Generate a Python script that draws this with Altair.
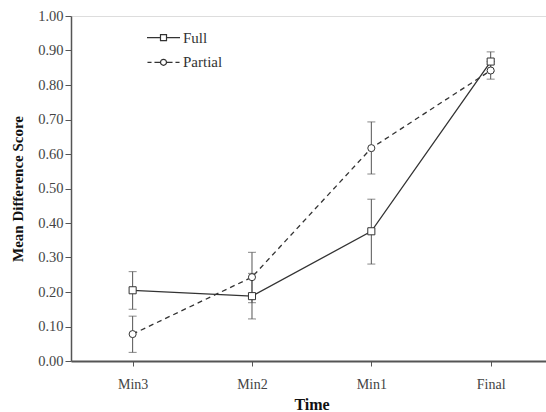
import altair as alt
import pandas as pd

times = ["Min3", "Min2", "Min1", "Final"]
groups = ["Full", "Partial"]
full_mean = [0.205, 0.188, 0.376, 0.868]
full_lo = [0.150, 0.122, 0.281, 0.840]
full_hi = [0.259, 0.254, 0.469, 0.896]
partial_mean = [0.078, 0.243, 0.617, 0.842]
partial_lo = [0.025, 0.169, 0.542, 0.817]
partial_hi = [0.130, 0.315, 0.693, 0.868]
y_ticks = [0.0, 0.1, 0.2, 0.3, 0.4, 0.5, 0.6, 0.7, 0.8, 0.9, 1.0]

rows = []
for g, m, lo, hi in [("Full", full_mean, full_lo, full_hi),
                     ("Partial", partial_mean, partial_lo, partial_hi)]:
    for t, a, b, c in zip(times, m, lo, hi):
        rows.append({"time": t, "group": g, "mean": a, "lo": b, "hi": c})
df = pd.DataFrame(rows)

FONT = "Liberation Serif"
INK = "#333333"
YTITLE = "Mean Difference Score"

xaxis = alt.Axis(
    title="Time", titleFont=FONT, titleFontSize=16, titleFontWeight="bold", titleColor="#111111",
    titleX=240.5, titleY=48.5, titleBaseline="alphabetic", titleAlign="center",
    labelFont=FONT, labelFontSize=14, labelColor="#444444", labelAngle=0,
    labelBaseline="alphabetic", labelPadding=22,
    tickSize=5, tickColor="#555555", tickWidth=1,
    domainColor="#555555", domainWidth=2, grid=False,
)
yaxis = alt.Axis(
    title=YTITLE, titleFont=FONT, titleFontSize=15, titleFontWeight="bold", titleColor="#111111",
    titleX=-54, titleY=172.5, titleAngle=270, titleAlign="center", titleBaseline="middle",
    labelFont=FONT, labelFontSize=14.5, labelColor="#444444", labelPadding=2,
    values=y_ticks, format=".2f",
    tickSize=6, tickColor="#555555", tickWidth=1,
    domainColor="#555555", domainWidth=1.5, grid=False,
)

xscale = alt.Scale(type="point", padding=0.49, align=0.527)
yscale = alt.Scale(domain=[0, 1], nice=False, zero=True)

x = alt.X("time:N", sort=times, scale=xscale, axis=xaxis)
y_mean = alt.Y("mean:Q", scale=yscale, axis=yaxis, title=YTITLE)
y_lo = alt.Y("lo:Q", scale=yscale, axis=yaxis, title=YTITLE)
y_hi = alt.Y("hi:Q", scale=yscale, axis=yaxis, title=YTITLE)

base = alt.Chart(df)

line_full = base.transform_filter("datum.group == 'Full'").mark_line(
    color=INK, strokeWidth=1.3).encode(x=x, y=y_mean)
line_partial = base.transform_filter("datum.group == 'Partial'").mark_line(
    color=INK, strokeWidth=1.3, strokeDash=[5, 4]).encode(x=x, y=y_mean)

err = base.mark_rule(color="#555555", strokeWidth=1).encode(x=x, y=y_lo, y2="hi:Q")
cap_lo = base.mark_tick(orient="horizontal", size=8, thickness=1, color="#555555").encode(x=x, y=y_lo)
cap_hi = base.mark_tick(orient="horizontal", size=8, thickness=1, color="#555555").encode(x=x, y=y_hi)

points = base.mark_point(filled=True, fill="white", stroke=INK, strokeWidth=1, size=50, opacity=1).encode(
    x=x, y=y_mean,
    shape=alt.Shape("group:N", scale=alt.Scale(domain=groups, range=["square", "circle"]), legend=None),
)

path_full = "M-2.36,0H-0.43M-0.43,-0.43H0.43V0.43H-0.43ZM0.43,0H2.36"
path_partial = ("M-2.29,0H-1.71M-1.29,0H-0.43"
                "A0.43,0.43 0 1,1 0.43,0A0.43,0.43 0 1,1 -0.43,0"
                "M0.43,0H1.29M1.71,0H2.29")

legend_layer = base.transform_filter("false").mark_point(opacity=1, filled=False, color=INK).encode(
    x=x, y=y_mean,
    shape=alt.Shape("group:N", scale=alt.Scale(domain=groups, range=[path_full, path_partial]),
                    legend=alt.Legend(title=None, orient="none", legendX=84.5, legendY=13.7,
                                      symbolSize=196, symbolStrokeWidth=1.2, symbolStrokeColor=INK,
                                      symbolFillColor="transparent", symbolOpacity=1,
                                      labelFont=FONT, labelFontSize=15, labelColor=INK,
                                      labelOffset=11.5, rowPadding=8.6, padding=0)),
)

chart = alt.layer(line_full, line_partial, err, cap_lo, cap_hi, points, legend_layer).resolve_scale(
    shape="independent"
).properties(
    width=475, height=345,
    autosize=alt.AutoSizeParams(type="none"),
    padding={"left": 71, "top": 16, "right": 0, "bottom": 51},
).configure_view(stroke=None).configure(background="white")

chart.save("out.html", embed_options={"renderer": "svg", "actions": False})
